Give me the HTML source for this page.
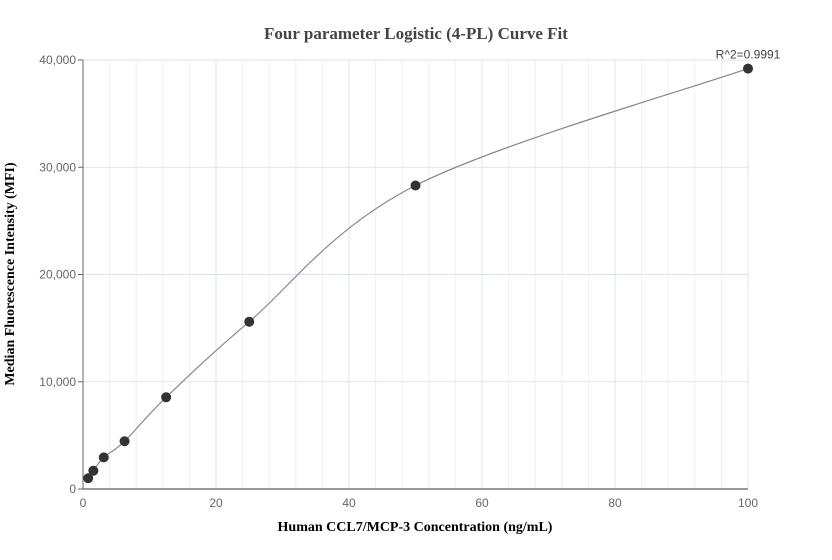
<!DOCTYPE html>
<html><head><meta charset="utf-8"><style>
body{margin:0;background:#fff;}
svg{display:block;font-family:"Liberation Sans",sans-serif;}
</style></head><body>
<svg id="chart" width="832" height="560">
<text x="416" y="39" text-anchor="middle" font-family="Liberation Serif" font-weight="bold" font-size="17" fill="#444">Four parameter Logistic (4-PL) Curve Fit</text>
<text x="415" y="531" text-anchor="middle" font-family="Liberation Serif" font-weight="bold" font-size="14" fill="#000">Human CCL7/MCP-3 Concentration (ng/mL)</text>
<text transform="translate(14,274) rotate(-90)" text-anchor="middle" font-family="Liberation Serif" font-weight="bold" font-size="14" fill="#000">Median Fluorescence Intensity (MFI)</text>
<g id="grid"></g><g id="axes"></g><g id="series"></g>
</svg>
<script>
const xTicks=[0,20,40,60,80,100];
const yTicks=[0,10000,20000,30000,40000];
const yTickLabels=["0","10,000","20,000","30,000","40,000"];
const concentrations=[0.78,1.56,3.125,6.25,12.5,25,50,100];
const mfiValues=[1000,1700,2950,4450,8550,15600,28300,39200];
const r2Label="R^2=0.9991";
const X0=83,X1=748,Y0=489,Y1=60;
const xs=v=>X0+(v/100)*(X1-X0);
const ys=v=>Y0-(v/40000)*(Y0-Y1);
const NS="http://www.w3.org/2000/svg";
function mk(tag,parent,attrs){const e=document.createElementNS(NS,tag);for(const k in attrs)e.setAttribute(k,attrs[k]);parent.appendChild(e);return e;}
const grid=document.getElementById('grid'),axes=document.getElementById('axes'),series=document.getElementById('series');
for(let v=4;v<100;v+=4){if(v%20===0)continue;const l=mk('line',grid,{x1:xs(v),x2:xs(v),y1:Y1,y2:Y0,stroke:'#eef0f8','stroke-width':1});

}
xTicks.forEach(v=>{if(v>0){const l=mk('line',grid,{x1:xs(v),x2:xs(v),y1:Y1,y2:Y0,stroke:'#dfe3f0','stroke-width':1});

}
const t=mk('text',axes,{x:xs(v),y:Y0+18,'text-anchor':'middle','font-size':12,fill:'#666'});t.textContent=v;

});
yTicks.forEach((v,i)=>{if(v>0){const l=mk('line',grid,{x1:X0,x2:X1,y1:ys(v),y2:ys(v),stroke:'#dfe3f0','stroke-width':1});

}
mk('line',axes,{x1:X0-5,x2:X0,y1:ys(v),y2:ys(v),stroke:'#666'});
const t=mk('text',axes,{x:X0-7,y:ys(v)+4,'text-anchor':'end','font-size':12,fill:'#666'});t.textContent=yTickLabels[i];

});
const ya=mk('line',axes,{x1:X0,x2:X0,y1:Y1,y2:Y0,stroke:'#666'});


const xa=mk('line',axes,{x1:X0,x2:X1,y1:Y0,y2:Y0,stroke:'#333'});


// smooth curve (Catmull-Rom) through data
const P=concentrations.map((c,i)=>[xs(c),ys(mfiValues[i])]);
let d='M'+P[0][0]+','+P[0][1];
for(let i=0;i<P.length-1;i++){const p0=P[Math.max(0,i-1)],p1=P[i],p2=P[i+1],p3=P[Math.min(P.length-1,i+2)];
d+=' C'+(p1[0]+(p2[0]-p0[0])/6)+','+(p1[1]+(p2[1]-p0[1])/6)+' '+(p2[0]-(p3[0]-p1[0])/6)+','+(p2[1]-(p3[1]-p1[1])/6)+' '+p2[0]+','+p2[1];}
const path=mk('path',series,{d:d,fill:'none',stroke:'#888','stroke-width':1.2});


P.forEach(p=>{const c=mk('circle',series,{cx:p[0],cy:p[1],r:5,fill:'#333'});

});
const last=P[P.length-1];
const r=mk('text',series,{x:last[0],y:last[1]-10,'text-anchor':'middle','font-size':12,fill:'#444'});r.textContent=r2Label;


</script>
</body></html>
